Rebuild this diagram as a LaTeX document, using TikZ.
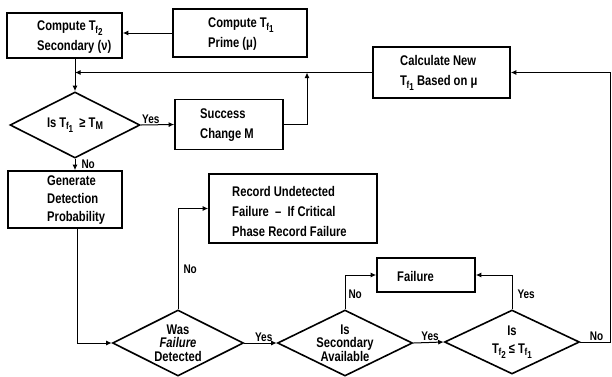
\documentclass[tikz,border=0pt]{standalone}
\usepackage{fontspec}
\usepackage{graphicx}
\setmainfont{Liberation Sans}[FakeStretch=0.8]
\usetikzlibrary{arrows.meta,shapes.geometric}

% T with a two-level subscript, e.g. T_{f_1}
\newcommand\Tsub[1]{T\kern-0.3pt\raisebox{-0.35ex}{\scalebox{0.72}{f\raisebox{-0.45ex}{#1}}}}
\newcommand\TM{T\raisebox{-0.3ex}{\scalebox{0.8}{M}}}

\begin{document}
\begin{tikzpicture}[x=1pt,y=-1pt,
  every node/.style={font=\bfseries\fontsize{14}{20}\selectfont},
  procbox/.style={draw, line width=1.6pt, inner sep=0pt},
  boxtext/.style={anchor=west, align=left, inner sep=0pt},
  decide/.style={diamond, draw, line width=1.6pt, align=center, inner sep=0pt,
                 aspect=2, font=\bfseries\fontsize{14}{13.5}\selectfont},
  flow/.style={line width=1pt, -{Latex[length=5.5pt,width=5pt]}},
  lbl/.style={font=\bfseries\fontsize{12.5}{12}\selectfont, inner sep=1pt}]
\useasboundingbox (0,0) rectangle (612,376);

% process boxes (frame and text set separately so the text sits where it should)
\node[procbox, minimum width=115pt, minimum height=45pt] (sec) at (64.5,35.5) {};
\node[boxtext] (sectext) at (37,37) {Compute \Tsub{2}\\Secondary (ν)};

\node[procbox, minimum width=134pt, minimum height=48pt] (prime) at (240,33) {};
\node[boxtext] (primetext) at (208,34) {Compute \Tsub{1}\\Prime (μ)};

\node[procbox, minimum width=137pt, minimum height=51pt] (calc) at (441.5,72.5) {};
\node[boxtext] (calctext) at (400,73) {Calculate New\\\Tsub{1} Based on μ};

\node[procbox, minimum width=108pt, minimum height=50pt] (succ) at (229,124.5) {};
\node[boxtext] (succtext) at (200,125) {Success\\Change M};

\node[procbox, minimum width=114pt, minimum height=57pt] (gen) at (65,199.5) {};
\node[boxtext, font=\bfseries\fontsize{14}{18}\selectfont] (gentext) at (47,200)
  {Generate\\Detection\\Probability};

\node[procbox, minimum width=168pt, minimum height=69pt] (rec) at (293,208.5) {};
\node[boxtext] (rectext) at (232,211) {Record Undetected\\Failure\ \ --\ \ If Critical\\Phase Record Failure};

\node[procbox, minimum width=98pt, minimum height=34pt] (fail) at (426,275) {};
\node[boxtext] (failtext) at (397,276) {Failure};

% decisions
\node[decide, minimum width=130pt, minimum height=66pt] (isTM) at (75,125)
  {Is \Tsub{1}\ \ ≥\ \TM};
\node[decide, minimum width=131pt, minimum height=66pt] (was) at (178,343)
  {Was\\\itshape Failure\\Detected};
\node[decide, minimum width=135pt, minimum height=66pt] (avail) at (345,343)
  {Is\\Secondary\\Available};
\node[decide, minimum width=135pt, minimum height=64pt,
      font=\bfseries\fontsize{14}{18}\selectfont] (cmp) at (512,342)
  {Is\\\Tsub{2} ≤ \Tsub{1}};

% junction points of the feedback paths
\coordinate (jtop) at (isTM.north |- calc.west);
\coordinate (jsucc) at (307,0);
\coordinate (jright) at (610,0);
\coordinate (jgen) at (77,0);

% connectors
\draw[flow] (prime.west) -- (sec.east |- prime.west);
\draw[flow] (isTM.north |- sec.south) -- (isTM.north);
\draw[flow] (calc.west) -- (jtop);
\draw[flow] (isTM.east) -- node[lbl, above, pos=0.3] {Yes} (succ.west);
\draw[flow] (succ.east) -- (jsucc |- succ.east) -- (jsucc |- calc.west);
\draw[flow] (isTM.south) -- node[lbl, right, pos=0.45, xshift=5pt] {No} (isTM.south |- gen.north);
\draw[flow] (jgen |- gen.south) -- (jgen |- was.west) -- (was.west);
\draw[flow] (was.north) -- node[lbl, right, pos=0.4, xshift=4pt] {No} (was.north |- rec.west) -- (rec.west);
\draw[flow] (was.east) -- node[lbl, above, pos=0.6] {Yes} (avail.west);
\draw[flow] (avail.north) -- node[lbl, right, pos=0.45, xshift=2pt] {No} (avail.north |- fail.west) -- (fail.west);
\draw[flow] (avail.east) -- node[lbl, above, pos=0.55] {Yes} (cmp.west);
\draw[flow] (cmp.north) -- node[lbl, right, pos=0.45, xshift=4pt] {Yes} (cmp.north |- fail.east) -- (fail.east);
\draw[flow] (cmp.east) -- node[lbl, above, pos=0.55] {No} (jright |- cmp.east)
  -- (jright |- calc.east) -- (calc.east);
\end{tikzpicture}
\end{document}
